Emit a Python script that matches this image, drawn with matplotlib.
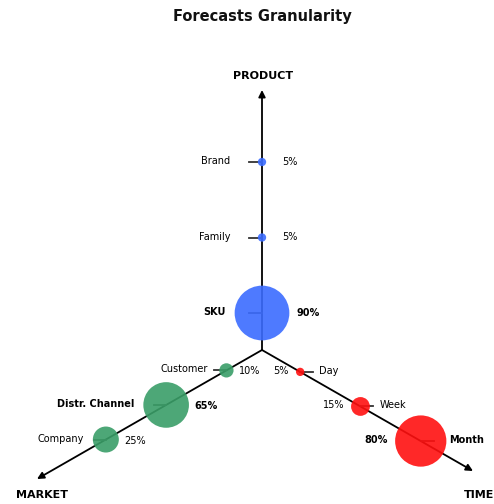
import matplotlib
matplotlib.use("Agg")
import matplotlib.pyplot as plt
import numpy as np
from matplotlib.patches import Circle

# ── Data ──────────────────────────────────────────────────────────────────────
axis_names = ["PRODUCT", "MARKET", "TIME"]
product_levels = ["SKU", "Family", "Brand"]
product_pct = [90, 5, 5]
market_levels = ["Customer", "Distr. Channel", "Company"]
market_pct = [10, 65, 25]
time_levels = ["Day", "Week", "Month"]
time_pct = [5, 15, 80]

COLORS = {"PRODUCT": "#3b6cff", "MARKET": "#3a9e68", "TIME": "#ff1010"}

# layout in pixel coordinates (figure is 494 x 504)
ORIGIN = np.array([262.0, 350.0])
TIPS = {"PRODUCT": (262, 90), "MARKET": (37, 479), "TIME": (473, 471)}
START = {"PRODUCT": 37, "MARKET": 41, "TIME": 44}
STEP = {"PRODUCT": 75.5, "MARKET": 69.5, "TIME": 69.5}

fig = plt.figure(figsize=(4.94, 5.04), dpi=100)
ax = fig.add_axes([0, 0, 1, 1])
ax.set_xlim(0, 494)
ax.set_ylim(504, 0)
ax.set_aspect("equal")
ax.axis("off")

ax.text(262, 17, "Forecasts Granularity", ha="center", va="center",
        fontsize=10.5, fontweight="bold", color="#111111")


def radius(p):
    return 3.2 * np.sqrt(p) - 3


def draw_axis(name, levels, pct):
    tip = np.array(TIPS[name], dtype=float)
    u = (tip - ORIGIN) / np.linalg.norm(tip - ORIGIN)
    ax.annotate("", xy=tip, xytext=ORIGIN,
                arrowprops=dict(arrowstyle="-|>", color="black", lw=1.3,
                                mutation_scale=10, shrinkA=0, shrinkB=0),
                zorder=2)
    big = max(pct)
    for i, (lab, p) in enumerate(zip(levels, pct)):
        c = ORIGIN + u * (START[name] + STEP[name] * i)
        r = radius(p)
        ax.add_patch(Circle(c, r, color=COLORS[name], zorder=4, lw=0, alpha=0.9))
        bold = "bold" if p == big and p > 5 else "normal"
        if name == "TIME":
            ax.plot([c[0], c[0] + 13], [c[1], c[1]], color="#333333", lw=1.3, zorder=3)
            ax.text(c[0] + max(r + 3, 19), c[1] - 1, lab, ha="left", va="center",
                    fontsize=7, fontweight=bold)
            ax.text(c[0] - r - 7, c[1] - 1, f"{p}%", ha="right", va="center",
                    fontsize=7, fontweight=bold)
        elif name == "MARKET":
            ax.plot([c[0] - 12, c[0]], [c[1], c[1]], color="#333333", lw=1.3, zorder=3)
            ax.text(c[0] - max(r + 9, 19), c[1] - 1, lab, ha="right", va="center",
                    fontsize=7, fontweight=bold)
            ax.text(c[0] + r + 5, c[1] + 1, f"{p}%", ha="left", va="center",
                    fontsize=7, fontweight=bold)
        else:
            ax.plot([c[0] - 13, c[0]], [c[1], c[1]], color="#333333", lw=1.3, zorder=3)
            ax.text(c[0] - max(r + 9, 32), c[1] - 1, lab, ha="right", va="center",
                    fontsize=7, fontweight=bold)
            ax.text(c[0] + max(r + 7, 20), c[1], f"{p}%", ha="left", va="center",
                    fontsize=7, fontweight=bold)


draw_axis("PRODUCT", product_levels, product_pct)
draw_axis("MARKET", market_levels, market_pct)
draw_axis("TIME", time_levels, time_pct)

ax.text(263, 76, axis_names[0], ha="center", va="center", fontsize=8, fontweight="bold")
ax.text(42, 495, axis_names[1], ha="center", va="center", fontsize=8, fontweight="bold")
ax.text(479, 495, axis_names[2], ha="center", va="center", fontsize=8, fontweight="bold")

fig.savefig("out.png", dpi=100)
